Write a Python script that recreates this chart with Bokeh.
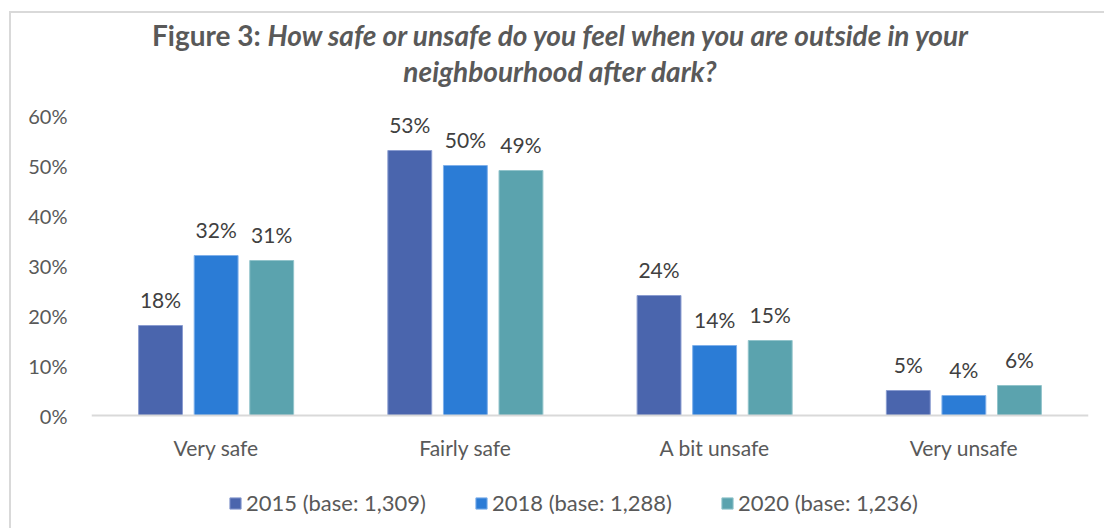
from bokeh.plotting import figure
from bokeh.layouts import column
from bokeh.core.properties import value
from bokeh.models import (FactorRange, Range1d, FixedTicker, PrintfTickFormatter,
                          Legend, LegendItem, ColumnDataSource, LabelSet, Div, Span)
from bokeh.transform import dodge
from bokeh.embed import file_html
from bokeh.resources import INLINE

categories = ["Very safe", "Fairly safe", "A bit unsafe", "Very unsafe"]
series_names = ["2015 (base: 1,309)", "2018 (base: 1,288)", "2020 (base: 1,236)"]
v2015 = [18, 53, 24, 5]
v2018 = [32, 50, 14, 4]
v2020 = [31, 49, 15, 6]
y_ticks = [0, 10, 20, 30, 40, 50, 60]
title_lead = "Figure 3:"
title_q1 = "How safe or unsafe do you feel when you are outside in your"
title_q2 = "neighbourhood after dark?"
colors = ["#4A65AD", "#2B7CD6", "#5BA3AE"]
edge_colors = ["#8A9CD0", "#7FB0EA", "#92C4CB"]

FONT = "Lato"
TXT = "#404040"
GRAY = "#595959"

title = Div(
    text=(f'<div style="position:absolute; left:9px; top:11px; width:1200px; height:700px; '
          f'border-left:2px solid #d9d9d9; border-top:2px solid #d9d9d9;"></div>'
          f'<div style="position:relative; font-family:{FONT}; font-size:28px; font-weight:bold; color:{GRAY}; '
          f'text-align:center; line-height:36px; padding-top:17px; padding-left:24px; '
          f'width:1096px; box-sizing:border-box;">'
          f'{title_lead} <i>{title_q1}</i><br><i>{title_q2}</i></div>'),
    width=1096, height=100, margin=0, styles={"overflow": "visible", "z-index": "0"})

p = figure(width=1096, height=420, x_range=FactorRange(*categories, range_padding=0),
           y_range=Range1d(-21, 60), output_backend="svg", toolbar_location=None,
           min_border_left=91, min_border_right=8, min_border_top=15, min_border_bottom=0,
           margin=0)
p.outline_line_color = None
p.xgrid.grid_line_color = None
p.ygrid.grid_line_color = None
p.background_fill_alpha = 0
p.border_fill_alpha = 0
p.xaxis.visible = False

p.yaxis.ticker = FixedTicker(ticks=y_ticks)
p.yaxis.formatter = PrintfTickFormatter(format="%d%%")
p.yaxis.axis_line_color = None
p.yaxis.major_tick_line_color = None
p.yaxis.minor_tick_line_color = None
p.yaxis.major_label_text_font = FONT
p.yaxis.major_label_text_font_size = "20px"
p.yaxis.major_label_text_color = GRAY
p.yaxis.major_label_standoff = 18

src = ColumnDataSource(dict(cat=categories, v2015=v2015, v2018=v2018, v2020=v2020,
                            l2015=[f"{v}%" for v in v2015],
                            l2018=[f"{v}%" for v in v2018],
                            l2020=[f"{v}%" for v in v2020]))
offsets = [-0.223, 0.0, 0.223]
keys = ["2015", "2018", "2020"]
items = []
for k, off, col, ec, name in zip(keys, offsets, colors, edge_colors, series_names):
    r = p.vbar(x=dodge("cat", off, range=p.x_range), top="v" + k, width=0.176, source=src,
               fill_color=col, line_color=ec, line_width=1)
    items.append(LegendItem(label=name, renderers=[r]))
    lbl = LabelSet(x=dodge("cat", off, range=p.x_range), y="v" + k, text="l" + k, source=src,
                   text_align="center", text_baseline="bottom", y_offset=14,
                   text_font=value(FONT), text_font_size=value("21px"), text_color=TXT)
    p.add_layout(lbl)

# category axis: baseline line and labels
p.add_layout(Span(location=0, dimension="width", line_color="#d9d9d9", line_width=2))
cat_lbl = LabelSet(x="cat", y=0, text="cat", source=src, text_align="center",
                   text_baseline="middle", y_offset=-32, text_font=value(FONT),
                   text_font_size=value("21px"), text_color=GRAY)
p.add_layout(cat_lbl)

legend = Legend(items=items, orientation="horizontal", location=(137, 4),
                label_text_font=FONT, label_text_font_size="22px", label_text_color=GRAY,
                glyph_width=14, glyph_height=14, label_standoff=4, spacing=48,
                border_line_color=None, background_fill_alpha=0, margin=0, padding=4)
p.add_layout(legend)

open("out.html", "w").write(file_html(column(title, p, spacing=0), INLINE))
